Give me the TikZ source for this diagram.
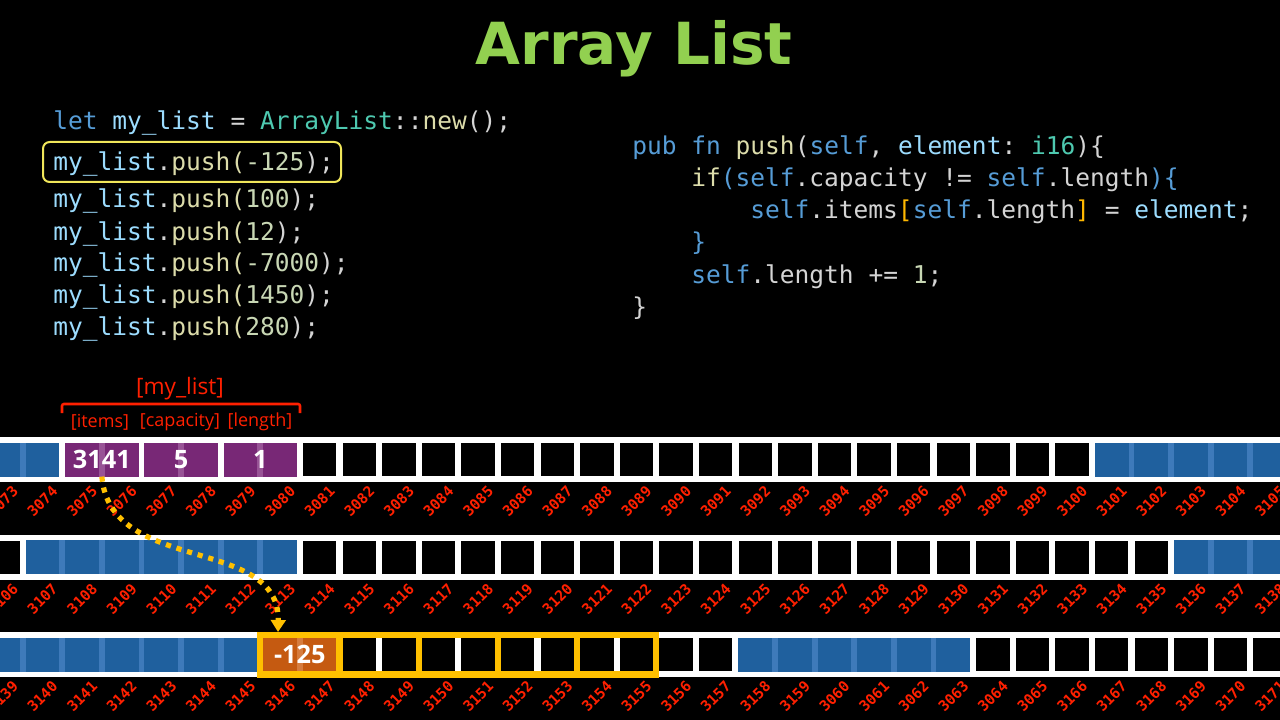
\documentclass[tikz,border=0pt]{standalone}
\usepackage{fontspec}
\usetikzlibrary{arrows.meta,calc}

\newfontfamily\titlefont{DejaVu Sans}
\newfontfamily\codefont{DejaVu Sans Mono}
\newfontfamily\memfont{Open Sans}

\definecolor{titlegreen}{RGB}{146,208,80}
\definecolor{kwblue}{RGB}{86,156,214}
\definecolor{varblue}{RGB}{156,220,254}
\definecolor{typeteal}{RGB}{78,201,176}
\definecolor{fnyellow}{RGB}{220,220,170}
\definecolor{numgreen}{RGB}{200,215,180}
\definecolor{plain}{RGB}{212,212,212}
\definecolor{brgold}{RGB}{255,184,0}
\definecolor{addrred}{RGB}{255,32,0}
\definecolor{heapblue}{RGB}{31,96,158}
\definecolor{heapbluelt}{RGB}{62,122,186}
\definecolor{structpurple}{RGB}{120,40,118}
\definecolor{structpurplelt}{RGB}{152,84,150}
\definecolor{valorange}{RGB}{197,90,17}
\definecolor{valorangelt}{RGB}{214,124,62}
\definecolor{slotyellow}{RGB}{255,192,0}
\definecolor{boxyellow}{RGB}{240,230,90}

% one run of used memory: row, first cell, last cell, fill, gap fill
\newcommand{\memspan}[5]{%
  \fill[#5] (c-#1-#2.south west) rectangle (c-#1-#3.north east);
  \foreach \k in {#2,...,#3}
    \fill[#4] (c-#1-\k.south west) rectangle (c-#1-\k.north east);
}

\tikzset{
  cell/.style={minimum width=24.98pt, minimum height=24.98pt, inner sep=0pt, fill=black},
  pair/.style={minimum width=54.7pt, minimum height=24.98pt, inner sep=0pt, text=white,
    font=\memfont\bfseries\fontsize{19}{20}\selectfont},
  addr/.style={rotate=45, inner sep=0pt, text=addrred,
    font=\codefont\bfseries\fontsize{11}{11}\selectfont},
  code/.style={anchor=base west, inner sep=0pt, text=plain,
    font=\codefont\frenchspacing\fontsize{18.4}{22}\selectfont},
  memname/.style={inner sep=0pt, text=addrred, font=\memfont\fontsize{17}{20}\selectfont},
  fieldname/.style={inner sep=0pt, text=addrred, font=\memfont\fontsize{13.5}{16}\selectfont},
  brace/.style={draw=addrred, line width=1.9pt, rounded corners=1.5pt},
  ptr/.style={draw=slotyellow, line width=3.9pt, dash pattern=on 3.9pt off 4.4pt,
    -{Triangle[width=11pt,length=9pt]}},
}

\begin{document}
\begin{tikzpicture}[x=0.75pt, y=-0.75pt]
\useasboundingbox (0,0) rectangle (1280,720);
\fill[black] (0,0) rectangle (1280,720);

\node[anchor=base, inner sep=0pt, text=titlegreen, font=\titlefont\bfseries\fontsize{43.5}{50}\selectfont]
  (title) at (634,65) {Array List};

% caller
\node[code] (l1) at (53,130) {\textcolor{kwblue}{let} \textcolor{varblue}{my\_list} = \textcolor{typeteal}{ArrayList}::\textcolor{fnyellow}{new}();};
\node[code] (l2) at (53,171) {\textcolor{varblue}{my\_list}.\textcolor{fnyellow}{push(}\textcolor{numgreen}{-125});};
\node[code] (l3) at (53,208) {\textcolor{varblue}{my\_list}.\textcolor{fnyellow}{push(}\textcolor{numgreen}{100});};
\node[code] (l4) at (53,240) {\textcolor{varblue}{my\_list}.\textcolor{fnyellow}{push(}\textcolor{numgreen}{12});};
\node[code] (l5) at (53,272) {\textcolor{varblue}{my\_list}.\textcolor{fnyellow}{push(}\textcolor{numgreen}{-7000});};
\node[code] (l6) at (53,303) {\textcolor{varblue}{my\_list}.\textcolor{fnyellow}{push(}\textcolor{numgreen}{1450});};
\node[code] (l7) at (53,335) {\textcolor{varblue}{my\_list}.\textcolor{fnyellow}{push(}\textcolor{numgreen}{280});};
\draw[boxyellow, line width=1.5pt, rounded corners=5pt] (43,142) rectangle (341,182);

% push
\node[code] (r1) at (632,155) {\textcolor{kwblue}{pub fn} \textcolor{fnyellow}{push}(\textcolor{kwblue}{self}, \textcolor{varblue}{element}: \textcolor{typeteal}{i16})\{};
\node[code] (r2) at (691,187) {\textcolor{fnyellow}{if}\textcolor{kwblue}{(self}.capacity != \textcolor{kwblue}{self}.length\textcolor{kwblue}{)\{}};
\node[code] (r3) at (750,219) {\textcolor{kwblue}{self}.items\textcolor{brgold}{[}\textcolor{kwblue}{self}.length\textcolor{brgold}{]} = \textcolor{varblue}{element};};
\node[code] (r4) at (691,251) {\textcolor{kwblue}{\}}};
\node[code] (r5) at (691,283) {\textcolor{kwblue}{self}.length += \textcolor{numgreen}{1};};
\node[code] (r6) at (632,315) {\}};

% memory
\begin{scope}
\clip (0,0) rectangle (1280,720);
\foreach \r in {0,1,2} {
  \fill[white] (0,437+97.5*\r) rectangle (1280,482+97.5*\r);
  \foreach \j in {0,...,32} {
    \pgfmathsetmacro\xc{-13.8+39.6*\j+16.65}
    \pgfmathsetmacro\yc{443+97.5*\r+16.65}
    \pgfmathtruncatemacro\addrno{3073+33*\r+\j}
    \ifnum\addrno>3159 \ifnum\addrno<3166 \pgfmathtruncatemacro\addrno{\addrno-100}\fi\fi
    \node[cell] (c-\r-\j) at (\xc,\yc) {};
    \node[addr] (a-\r-\j) at (\xc,\yc+41.65) {\addrno};
  }
}
\memspan{0}{0}{1}{heapblue}{heapbluelt}
\memspan{0}{28}{32}{heapblue}{heapbluelt}
\memspan{1}{1}{7}{heapblue}{heapbluelt}
\memspan{1}{30}{32}{heapblue}{heapbluelt}
\memspan{2}{0}{6}{heapblue}{heapbluelt}
\memspan{2}{19}{24}{heapblue}{heapbluelt}
\memspan{0}{2}{3}{structpurple}{structpurplelt}
\memspan{0}{4}{5}{structpurple}{structpurplelt}
\memspan{0}{6}{7}{structpurple}{structpurplelt}
\memspan{2}{7}{8}{valorange}{valorangelt}
\end{scope}

\node[pair] (items) at ($(c-0-2)!0.5!(c-0-3)$) {3141};
\node[pair] (capacity) at ($(c-0-4)!0.5!(c-0-5)$) {5};
\node[pair] (length) at ($(c-0-6)!0.5!(c-0-7)$) {1};
\node[pair] (newval) at ($(c-2-7)!0.5!(c-2-8)$) {-125};

% the five i16 slots
\draw[slotyellow, line width=4.7pt] (260.25,634.85) rectangle (656.25,674.45);
\foreach \j in {8,10,12,14}
  \draw[slotyellow, line width=4.7pt] (22.65+39.6*\j,634.85) -- (22.65+39.6*\j,674.45);

\node[memname] (listname) at (180,389) {[my\_list]};
\draw[brace] (62,413) |- (300,404) -- (300,413);
\node[fieldname] (fitems) at (100,422) {[items]};
\node[fieldname] (fcapacity) at (180,422) {[capacity]};
\node[fieldname] (flength) at (260,422) {[length]};

\coordinate (tip) at (278,632);
\draw[ptr] (items.south) .. controls (110,575) and (280,535) .. (tip);

\end{tikzpicture}
\end{document}
